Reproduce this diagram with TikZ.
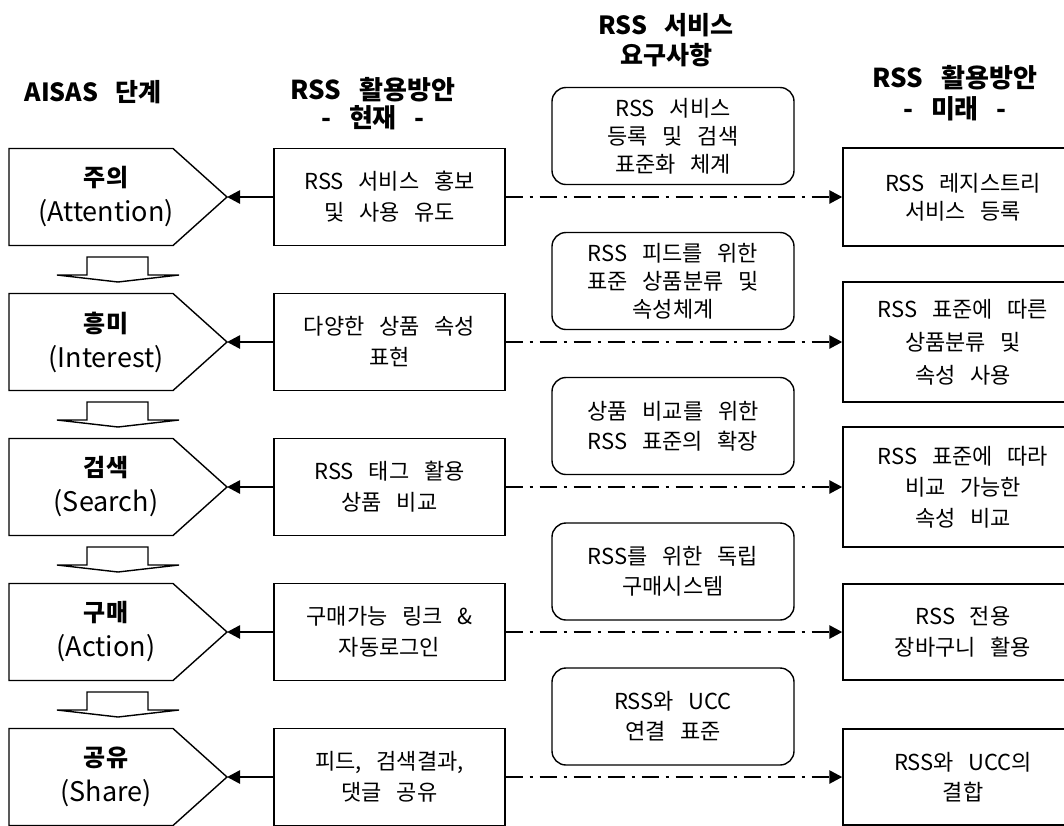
\documentclass[tikz,border=0pt]{standalone}
\usepackage{fontspec}
\setmainfont[WordSpace=3]{Noto Sans CJK KR}
\usetikzlibrary{arrows.meta}
\tikzset{
  thinline/.style={draw, line width=1.4pt, line join=miter},
  cur/.style={thinline, minimum width=231pt, minimum height=97pt, inner sep=0pt, align=center, font=\fontsize{22}{31}\selectfont},
  fut/.style={thinline, minimum width=240pt, inner sep=0pt, align=center, font=\fontsize{22}{31}\selectfont},
  req/.style={thinline, rounded corners=14pt, minimum width=242pt, minimum height=97pt, inner sep=0pt, align=center, font=\fontsize{22}{28}\selectfont},
  stage/.style={align=center, inner sep=0pt, font=\fontsize{27}{35}\selectfont},
  head/.style={align=center, inner sep=0pt, font=\fontsize{25}{30}\selectfont\bfseries},
  solidarrow/.style={line width=2.6pt, -{Triangle[length=13pt,width=13pt]}},
  dasharrow/.style={line width=2.6pt, dash pattern=on 17pt off 7pt on 3pt off 7pt, -{Triangle[length=13pt,width=13pt]}},
}
\begin{document}
\begin{tikzpicture}[x=1pt,y=-1pt]
\useasboundingbox (0,0) rectangle (1064,825);
\clip (0,0) rectangle (1064,825);
\fill[white] (0,0) rectangle (1064,825);

% headers
\node[head] (h1) at (93,92) {AISAS 단계};
\node[head, font=\fontsize{26}{28}\selectfont\bfseries] (h2) at (373,104) {RSS 활용방안\\- 현재 -};
\node[head] (h3) at (666,40) {RSS 서비스\\요구사항};
\node[head, font=\fontsize{26}{31}\selectfont\bfseries] (h4) at (955,93) {RSS 활용방안\\- 미래 -};

% stage pentagons
\foreach \yc/\nm in {197/1,342/2,487/3,632/4,777/5}{
  \draw[thinline] (9,\yc-48.5) -- (173,\yc-48.5) -- (227,\yc) coordinate (tip\nm) -- (173,\yc+48.5) -- (9,\yc+48.5) -- cycle;
}
\node[stage] (s1) at (106,197) {{\bfseries\fontsize{24}{35}\selectfont 주의}\\(Attention)};
\node[stage] (s2) at (106,342) {{\bfseries\fontsize{24}{35}\selectfont 흥미}\\(Interest)};
\node[stage] (s3) at (106,487) {{\bfseries\fontsize{24}{35}\selectfont 검색}\\(Search)};
\node[stage] (s4) at (106,632) {{\bfseries\fontsize{24}{35}\selectfont 구매}\\(Action)};
\node[stage] (s5) at (106,777) {{\bfseries\fontsize{24}{35}\selectfont 공유}\\(Share)};

% down block arrows
\foreach \yc in {197,342,487,632}{
  \draw[thinline] (87,\yc+60) -- (87,\yc+78) -- (57,\yc+78) -- (118,\yc+85) -- (179,\yc+78) -- (148,\yc+78) -- (148,\yc+60) -- cycle;
}

% current
\node[cur] (c1) at (389.5,197) {RSS 서비스 홍보\\및 사용 유도};
\node[cur] (c2) at (389.5,342) {다양한 상품 속성\\표현};
\node[cur] (c3) at (389.5,487) {RSS 태그 활용\\상품 비교};
\node[cur] (c4) at (389.5,632) {구매가능 링크 \&\\자동로그인};
\node[cur] (c5) at (389.5,777) {피드, 검색결과,\\댓글 공유};

% requirements
\node[req] (r1) at (673,136) {RSS 서비스\\등록 및 검색\\표준화 체계};
\node[req] (r2) at (673,281) {RSS 피드를 위한\\표준 상품분류 및\\속성체계};
\node[req, font=\fontsize{22}{30}\selectfont] (r3) at (673,426) {상품 비교를 위한\\RSS 표준의 확장};
\node[req, font=\fontsize{22}{30}\selectfont] (r4) at (673,571.5) {RSS를 위한 독립\\구매시스템};
\node[req, font=\fontsize{22}{30}\selectfont] (r5) at (673,716.5) {RSS와 UCC\\연결 표준};

% future
\node[fut, minimum height=98pt, font=\fontsize{22}{28}\selectfont] (f1) at (963,197) {RSS 레지스트리\\서비스 등록};
\node[fut, minimum height=120pt, font=\fontsize{22}{33}\selectfont] (f2) at (963,342) {RSS 표준에 따른\\상품분류 및\\속성 사용};
\node[fut, minimum height=120pt] (f3) at (963,487) {RSS 표준에 따라\\비교 가능한\\속성 비교};
\node[fut, minimum height=96pt] (f4) at (963,632) {RSS 전용\\장바구니 활용};
\node[fut, minimum height=96pt, font=\fontsize{22}{30}\selectfont] (f5) at (963,777) {RSS와 UCC의\\결합};

% connectors
\foreach \i in {1,...,5}{
  \draw[solidarrow] (c\i.west) -- (tip\i);
  \draw[dasharrow] (c\i.east) -- (f\i.west);
}
\end{tikzpicture}
\end{document}
